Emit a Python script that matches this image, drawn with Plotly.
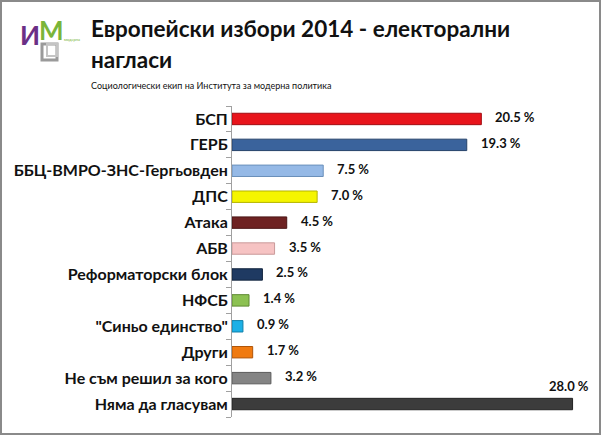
import plotly.graph_objects as go

categories = ["БСП", "ГЕРБ", "ББЦ-ВМРО-ЗНС-Гергьовден", "ДПС", "Атака", "АБВ",
              "Реформаторски блок", "НФСБ", "\"Синьо единство\"", "Други",
              "Не съм решил за кого", "Няма да гласувам"]
values = [20.5, 19.3, 7.5, 7.0, 4.5, 3.5, 2.5, 1.4, 0.9, 1.7, 3.2, 28.0]
value_labels = ["20.5 %", "19.3 %", "7.5 %", "7.0 %", "4.5 %", "3.5 %",
                "2.5 %", "1.4 %", "0.9 %", "1.7 %", "3.2 %", "28.0 %"]
colors = ["#e8141b", "#3a639c", "#95b9e6", "#f5f500", "#6e2222", "#f6c3c3",
          "#1f3a62", "#8cc152", "#1cb0e6", "#f07a10", "#848484", "#3c3c3c"]
line_colors = ["#a00d12", "#25426a", "#6a8fba", "#b5b500", "#4a1414", "#c99a9a",
               "#12243e", "#5f8a33", "#1080aa", "#b05508", "#5a5a5a", "#222222"]

title_line1 = "Европейски избори 2014 - електорални"
title_line2 = "нагласи"
subtitle = "Социологически екип на Института за модерна политика"

W, H = 601, 438
ML, MR, MT, MB = 232, 26, 106, 21
pw = W - ML - MR
ph = H - MT - MB

fig = go.Figure()
fig.add_trace(go.Bar(
    x=values, y=categories, orientation="h",
    marker=dict(color=colors, line=dict(color=line_colors, width=1)),
    width=0.44, hoverinfo="skip",
))

FONT = "Lato"
vmax = max(values)
for c, v, t in zip(categories, values, value_labels):
    if v == vmax:
        fig.add_annotation(x=v, y=c, text="<b>" + t + "</b>", showarrow=False, xanchor="right",
                           yanchor="bottom", yshift=8, xshift=18,
                           font=dict(family=FONT, size=13, color="#111"))
    else:
        fig.add_annotation(x=v, y=c, text="<b>" + t + "</b>", showarrow=False, xanchor="left",
                           xshift=12, yshift=2,
                           font=dict(family=FONT, size=13, color="#111"))

def px_x(p):
    return (p - ML) / pw
def px_y(p):
    return 1 - (p - MT) / ph

fig.add_annotation(xref="paper", yref="paper", x=px_x(89), y=px_y(28), text="<b>" + title_line1 + "</b>",
                   showarrow=False, xanchor="left", yanchor="middle",
                   font=dict(family=FONT, size=22.5, color="#111"))
fig.add_annotation(xref="paper", yref="paper", x=px_x(89), y=px_y(60), text="<b>" + title_line2 + "</b>",
                   showarrow=False, xanchor="left", yanchor="middle",
                   font=dict(family=FONT, size=22.5, color="#111"))
fig.add_annotation(xref="paper", yref="paper", x=px_x(89), y=px_y(85), text=subtitle,
                   showarrow=False, xanchor="left", yanchor="middle",
                   font=dict(family=FONT, size=9, color="#111"))
# logo
fig.add_shape(type="rect", xref="paper", yref="paper", x0=px_x(42), x1=px_x(57),
              y0=px_y(60), y1=px_y(44), line=dict(color="#9a9a9a", width=3), fillcolor="rgba(0,0,0,0)")
fig.add_shape(type="rect", xref="paper", yref="paper", x0=px_x(47), x1=px_x(57),
              y0=px_y(56), y1=px_y(44), line=dict(color="#c4c4c4", width=2), fillcolor="rgba(0,0,0,0)")
fig.add_annotation(xref="paper", yref="paper", x=px_x(18), y=px_y(35), text="<b>И</b>",
                   showarrow=False, xanchor="left", yanchor="middle",
                   font=dict(family=FONT, size=26, color="#6b2f86"))
fig.add_annotation(xref="paper", yref="paper", x=px_x(37), y=px_y(30), text="<b>М</b>",
                   showarrow=False, xanchor="left", yanchor="middle",
                   font=dict(family=FONT, size=26, color="#7ab539"))
fig.add_annotation(xref="paper", yref="paper", x=px_x(62), y=px_y(40), text="модерна",
                   showarrow=False, xanchor="left", yanchor="middle",
                   font=dict(family=FONT, size=4, color="#7ab539"))
# frame
fig.add_shape(type="rect", xref="paper", yref="paper",
              x0=px_x(1), x1=px_x(W - 1), y0=px_y(H - 4), y1=px_y(1),
              line=dict(color="#8a8a8a", width=2), fillcolor="rgba(0,0,0,0)", layer="below")

fig.update_layout(
    width=W, height=H,
    margin=dict(l=ML, r=MR, t=MT, b=MB, autoexpand=False),
    paper_bgcolor="white", plot_bgcolor="white",
    showlegend=False,
    xaxis=dict(range=[0, 28.2], visible=False, fixedrange=True, automargin=False),
    yaxis=dict(range=[len(categories) - 0.5, -0.5], showline=True, linecolor="#a0a0a0", linewidth=1,
               ticks="outside", tickson="boundaries", ticklen=5, tickcolor="#a0a0a0",
               showgrid=False, ticksuffix="   ", automargin=False,
               tickfont=dict(family=FONT, size=16, color="#111"),
               fixedrange=True,
               tickvals=categories, ticktext=["<b>" + c + "</b>" for c in categories]),
)

fig.write_html("out.html", config={"displayModeBar": False},
               post_script="document.body.style.margin='0';document.body.style.overflow='hidden';")
